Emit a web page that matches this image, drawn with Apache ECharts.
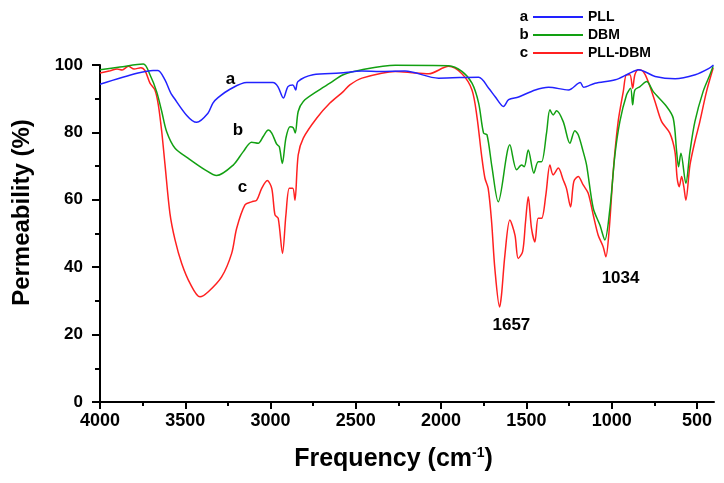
<!DOCTYPE html>
<html>
<head>
<meta charset="utf-8">
<script src="https://cdn.jsdelivr.net/npm/echarts@6/dist/echarts.min.js"></script>
<style>html,body{margin:0;padding:0;background:#fff}#c{width:724px;height:483px}</style>
</head>
<body>
<div id="c"></div>
<script>
// ---- data (wavenumber cm^-1, permeability %) ----
const pllFreq = [4000,3777,3689,3660,3619,3578,3433,3367,3338,3308,3238,3140,2986,2957,2925,2898,2869,2853,2839,2751,2593,2464,2359,2212,2015,1780,1721,1683,1634,1604,1546,1448,1370,1253,1184,1165,1097,979,901,842,745,628,510,432,403];
const pllVal  = [94.3,97.6,98.4,98.4,95.6,91.1,83.0,85.7,88.7,90.3,92.8,94.8,94.8,93.6,90.2,93.6,94.1,92.6,95.1,97.1,97.6,98.2,98.1,98.2,96.1,96.4,93.1,90.6,87.7,89.7,90.5,92.6,93.4,92.6,94.8,93.4,94.6,95.6,97.4,98.6,96.6,95.9,97.1,98.9,100.0];

const dbmFreq = [4000,3883,3746,3707,3668,3638,3609,3560,3482,3384,3316,3219,3160,3111,3072,3043,3013,2993,2964,2949,2931,2910,2886,2867,2855,2838,2808,2730,2652,2574,2464,2269,1956,1878,1819,1780,1751,1731,1702,1665,1597,1557,1528,1513,1489,1456,1431,1411,1382,1362,1343,1323,1284,1245,1216,1196,1167,1147,1108,1069,1040,1010,981,952,913,889,877,864,834,795,756,678,639,619,608,594,565,541,512,464,424,405];
const dbmVal  = [98.6,99.4,100.3,97.1,92.1,86.2,80.2,75.3,72.3,68.9,67.2,70.3,74.3,77.1,76.8,78.8,80.7,79.8,76.5,75.8,70.8,78.3,81.7,81.4,79.8,86.2,89.2,92.1,94.6,97.1,98.6,99.9,99.8,98.1,94.6,88.7,79.8,79.3,69.8,59.4,76.3,68.9,70.3,69.8,74.8,67.9,71.3,71.3,79.8,86.7,85.2,86.4,83.2,76.8,80.5,79.3,74.3,70.3,57.5,52.5,48.1,57.5,73.3,83.2,91.1,93.1,88.2,92.6,93.6,95.1,92.1,87.7,84.2,74.3,69.8,73.8,64.9,74.3,83.2,92.1,97.1,99.6];

const mixFreq = [4000,3940,3900,3870,3834,3800,3760,3736,3707,3678,3658,3638,3619,3590,3560,3521,3472,3414,3365,3287,3228,3199,3150,3111,3081,3052,3019,2993,2974,2955,2930,2910,2890,2870,2857,2838,2808,2730,2652,2574,2535,2464,2269,2152,2073,1956,1878,1819,1790,1763,1743,1724,1704,1685,1657,1646,1626,1597,1567,1548,1522,1505,1489,1470,1450,1431,1411,1386,1362,1343,1313,1284,1265,1241,1222,1196,1167,1138,1108,1079,1050,1034,1014,991,962,932,913,893,877,864,844,815,786,746,707,659,629,616,604,590,577,565,541,512,483,444,405];
const mixVal  = [97.6,98.3,98.8,98.5,99.6,98.8,99.2,98.3,94.6,92.6,88.2,80.2,70.5,56.0,48.1,41.1,35.2,31.2,32.7,37.1,44.1,51.5,58.5,59.4,59.9,63.4,65.7,63.4,55.5,54.5,44.1,55.5,63.4,63.4,59.9,73.3,78.3,84.2,88.7,92.1,94.1,96.1,98.1,97.6,97.4,99.6,97.4,92.6,84.7,73.3,66.4,63.4,53.5,39.6,28.2,31.7,43.6,54.0,49.5,42.6,44.6,53.5,60.9,51.5,47.5,54.5,54.5,61.4,70.3,67.4,69.4,65.9,63.4,57.9,65.4,66.9,64.4,62.0,55.5,49.5,46.1,43.1,51.5,68.3,83.2,92.1,97.1,97.1,93.1,97.1,98.6,98.1,95.1,89.2,83.2,79.8,74.3,66.4,63.9,66.9,63.9,59.9,70.3,77.3,83.2,92.1,99.1];

const seriesNames = ['PLL','DBM','PLL-DBM'];
const seriesLetters = ['a','b','c'];
const majorTicksX = [500,1000,1500,2000,2500,3000,3500,4000];
const minorTicksX = [750,1250,1750,2250,2750,3250,3750];
// curve labels and peak labels: [freq, value, text]
const notes = [[3235,95.9,'a'],[3191,80.6,'b'],[3165,63.8,'c'],[1588,22.8,'1657'],[948,36.7,'1034']];

const zip = (f, v) => f.map((x, i) => [x, v[i]]);
const FONT = 'Liberation Sans';
const colors = ['#2222ff', '#12a012', '#ff2020'];

const chart = echarts.init(document.getElementById('c'), null, {renderer: 'canvas'});
const lineSeries = [zip(pllFreq, pllVal), zip(dbmFreq, dbmVal), zip(mixFreq, mixVal)].map((d, i) => ({
  name: seriesNames[i], type: 'line', data: d, symbol: 'none', smooth: 0.3, clip: false,
  lineStyle: {color: colors[i], width: 1.5}, itemStyle: {color: colors[i]}, z: 5 - i
}));

chart.setOption({
  animation: false,
  backgroundColor: '#fff',
  grid: {left: 100, right: 10, top: 65, bottom: 81},
  legend: {
    data: seriesNames, orient: 'vertical', left: 532, top: 10, padding: 0, itemWidth: 50, itemHeight: 14, itemGap: 4,
    itemStyle: {opacity: 0},
    textStyle: {fontFamily: FONT, fontWeight: 'bold', fontSize: 14, color: '#000'}
  },
  graphic: seriesLetters.map((t, i) => ({
    type: 'text', x: 524, y: 16.5 + i * 18.2,
    style: {text: t, font: 'bold 15px "' + FONT + '"', fill: '#000', textAlign: 'center', textVerticalAlign: 'middle'}
  })),
  xAxis: [{
    type: 'value', inverse: true, min: 400, max: 4000,
    name: 'Frequency (cm{sup|-1})', nameLocation: 'middle', nameGap: 44,
    nameTextStyle: {fontFamily: FONT, fontWeight: 'bold', fontSize: 25, color: '#000', padding: [0, 27, 0, 0],
      rich: {sup: {fontFamily: FONT, fontWeight: 'bold', fontSize: 14, color: '#000', padding: [0, 0, 12, 0]}}},
    axisLine: {show: true, lineStyle: {color: '#000', width: 2}},
    axisTick: {show: true, length: 7, lineStyle: {color: '#000', width: 2}, customValues: majorTicksX},
    axisLabel: {fontFamily: FONT, fontWeight: 'bold', fontSize: 18, color: '#000', margin: 10,
      customValues: majorTicksX, formatter: v => String(v)},
    splitLine: {show: false}
  }, {
    type: 'value', inverse: true, min: 400, max: 4000, position: 'bottom',
    axisLine: {show: false},
    axisTick: {show: true, length: 4, lineStyle: {color: '#000', width: 2}, customValues: minorTicksX},
    axisLabel: {show: false}, splitLine: {show: false}
  }],
  yAxis: {
    type: 'value', min: 0, max: 100, interval: 20,
    name: 'Permeability (%)', nameLocation: 'middle', nameGap: 66, nameRotate: 90,
    nameTextStyle: {fontFamily: FONT, fontWeight: 'bold', fontSize: 24, color: '#000', padding: [0, 0, 0, 42]},
    axisLine: {show: true, lineStyle: {color: '#000', width: 2}},
    axisTick: {show: true, length: 8, lineStyle: {color: '#000', width: 2}},
    minorTick: {show: true, splitNumber: 2, length: 5, lineStyle: {color: '#000', width: 2}},
    axisLabel: {fontFamily: FONT, fontWeight: 'bold', fontSize: 17, color: '#000', margin: 17},
    splitLine: {show: false}
  },
  series: lineSeries.concat([{
    type: 'scatter', name: 'notes', data: notes.map(n => ({value: [n[0], n[1]], label: {formatter: n[2]}})),
    symbolSize: 0, silent: true, z: 10,
    label: {show: true, position: 'inside', fontFamily: FONT, fontWeight: 'bold', fontSize: 17,
      color: '#000', textBorderWidth: 0, opacity: 1}
  }])
});
</script>
</body>
</html>
